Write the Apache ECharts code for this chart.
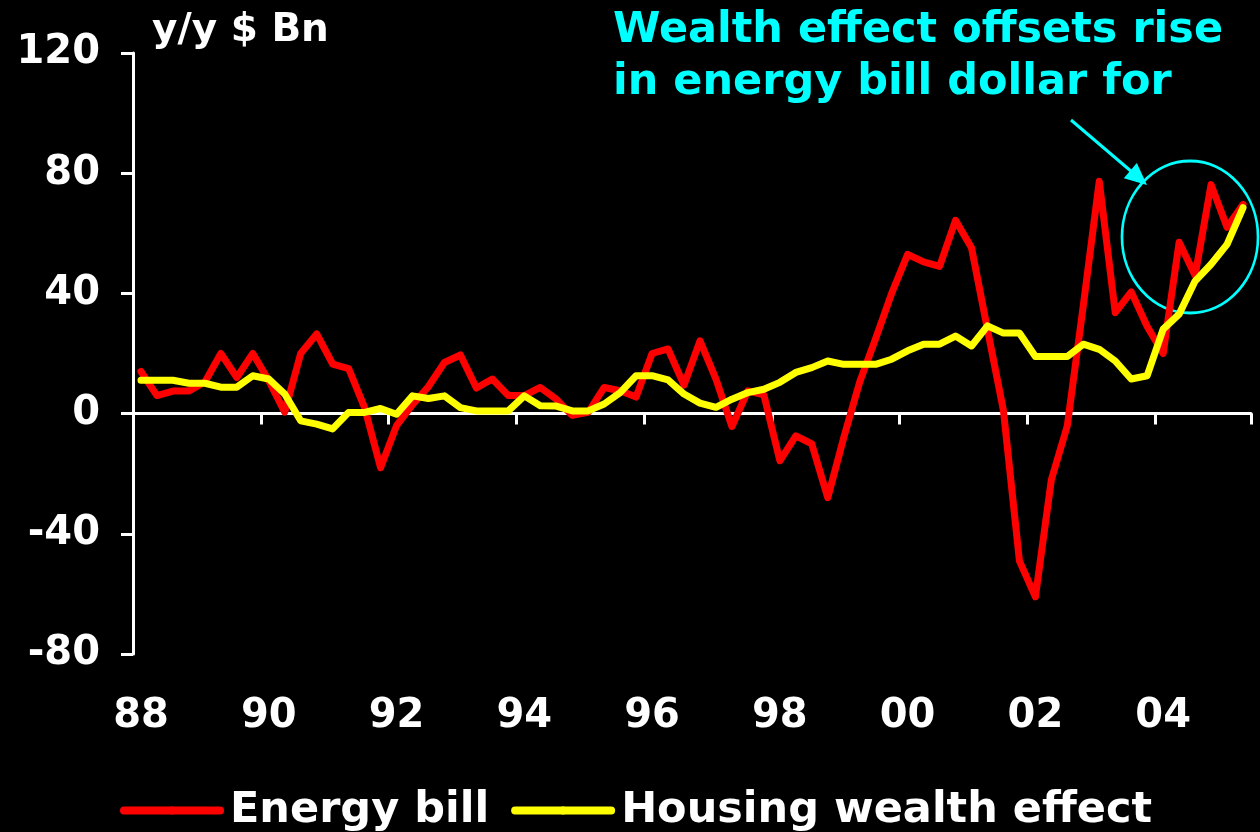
<!DOCTYPE html>
<html>
<head>
<meta charset="utf-8">
<style>
  html, body { margin: 0; padding: 0; background: #000; }
  #chart { width: 1260px; height: 832px; }
</style>
<script src="https://cdn.jsdelivr.net/npm/echarts@6/dist/echarts.min.js"></script>
</head>
<body>
<div id="chart"></div>
<script>
// Quarterly categories 1988Q1 .. 2005Q2
const quarters = [];
for (let y = 1988; y <= 2005; y++) {
  for (let q = 1; q <= 4; q++) {
    if (y === 2005 && q > 2) break;
    quarters.push(y + 'Q' + q);
  }
}

const energyBill = [
  14, 6, 7.5, 7.5, 10.5, 20, 12, 20, 11, 0.5,
  20, 26.5, 16.5, 15, 2, -18, -4, 3, 9, 17,
  19.5, 8.5, 11.5, 6, 6, 8.7, 4.8, -0.6, 0.4, 8.7,
  7.6, 5.5, 20, 21.5, 9.5, 24.2, 11.5, -4.3, 7.6, 6.2,
  -15.7, -7.4, -10.1, -28, -8, 10.5, 25, 40, 53, 50.5,
  49, 64.3, 55.2, 28, 1, -49, -61, -22, -4, 36,
  77.3, 33.6, 40.5, 29, 20, 57, 46, 76.2, 62, 69.6
];

const housingWealth = [
  11.1, 11.1, 11.1, 10.1, 10.1, 8.8, 8.8, 12.6, 11.5, 6.5,
  -2.4, -3.5, -5.1, 0.4, 0.4, 1.7, -0.2, 5.9, 5, 5.9,
  2, 0.9, 0.9, 0.9, 5.9, 2.6, 2.5, 0.9, 0.9, 3.2,
  7, 12.6, 12.6, 11.2, 6.5, 3.5, 2.1, 4.8, 7, 8.1,
  10.4, 13.7, 15.3, 17.5, 16.4, 16.4, 16.4, 18.1, 20.9, 23.1,
  23.1, 25.8, 22.5, 29.2, 26.8, 26.8, 19, 19, 19, 23.1,
  21.4, 17.5, 11.5, 12.6, 28.1, 33.1, 44.1, 49.7, 56.3, 68.5
];

const seriesNames = ['Energy bill', 'Housing wealth effect'];
const yTicks = { min: -80, max: 120, interval: 40 };
const unitLabel = 'y/y $ Bn';
const noteText = 'Wealth effect offsets rise\nin energy bill dollar for';

const FONT = 'DejaVu Sans';
const chart = echarts.init(document.getElementById('chart'));

const option = {
  backgroundColor: '#000000',
  animation: false,
  title: [
    {
      text: unitLabel,
      left: 152, top: 11, padding: 0,
      textStyle: { color: '#ffffff', fontFamily: FONT, fontWeight: 'bold', fontSize: 39 }
    },
    {
      text: noteText,
      left: 613, top: 5, padding: 0,
      textStyle: { color: '#00ffff', fontFamily: FONT, fontWeight: 'bold', fontSize: 43, lineHeight: 52 }
    }
  ],
  legend: {
    data: seriesNames,
    left: 120, top: 789, padding: 0,
    itemWidth: 96, itemHeight: 10, itemGap: 22,
    textStyle: { color: '#ffffff', fontFamily: FONT, fontWeight: 'bold', fontSize: 43, padding: [0, 0, 0, 5] },
    lineStyle: { width: 8, cap: 'round' }
  },
  grid: { left: 133, right: 9, top: 53, bottom: 178, containLabel: false },
  xAxis: [
    {
      type: 'category', data: quarters, boundaryGap: true, position: 'bottom',
      axisLine: { show: true, onZero: true, lineStyle: { color: '#ffffff', width: 3 } },
      axisTick: { show: true, interval: 7, length: 11, lineStyle: { color: '#ffffff', width: 3 } },
      axisLabel: { show: false },
      splitLine: { show: false }
    },
    {
      type: 'category', data: quarters, boundaryGap: true, position: 'bottom',
      axisLine: { show: false, onZero: false },
      axisTick: { show: false },
      axisLabel: {
        show: true, interval: 7, margin: 43,
        color: '#ffffff', fontFamily: FONT, fontWeight: 'bold', fontSize: 40,
        formatter: v => v.slice(2, 4)
      },
      splitLine: { show: false }
    }
  ],
  yAxis: {
    type: 'value', min: yTicks.min, max: yTicks.max, interval: yTicks.interval,
    axisLine: { show: true, onZero: false, lineStyle: { color: '#ffffff', width: 3 } },
    axisTick: { show: true, length: 12, lineStyle: { color: '#ffffff', width: 3 } },
    axisLabel: { color: '#ffffff', fontFamily: FONT, fontWeight: 'bold', fontSize: 40, margin: 33 },
    splitLine: { show: false }
  },
  series: [
    {
      name: seriesNames[0], type: 'line', data: energyBill, xAxisIndex: 0,
      symbol: 'none', showSymbol: false, z: 3,
      lineStyle: { color: '#ff0000', width: 7, cap: 'round', join: 'round' },
      itemStyle: { color: '#ff0000' }
    },
    {
      name: seriesNames[1], type: 'line', data: housingWealth, xAxisIndex: 0,
      symbol: 'none', showSymbol: false, z: 4,
      lineStyle: { color: '#ffff00', width: 7, cap: 'round', join: 'round' },
      itemStyle: { color: '#ffff00' }
    }
  ],
  graphic: [
    {
      type: 'circle', x: 1190, y: 237, scaleX: 0.895, scaleY: 1,
      shape: { cx: 0, cy: 0, r: 76 }, silent: true,
      style: { fill: 'none', stroke: '#00ffff', lineWidth: 3, strokeNoScale: true }
    },
    {
      type: 'line', silent: true,
      shape: { x1: 1071, y1: 120, x2: 1132, y2: 172 },
      style: { stroke: '#00ffff', lineWidth: 3 }
    },
    {
      type: 'polygon', silent: true,
      shape: { points: [[1147, 185], [1123.8, 178.3], [1136.8, 163.1]] },
      style: { fill: '#00ffff' }
    }
  ]
};

chart.setOption(option);
</script>
</body>
</html>
